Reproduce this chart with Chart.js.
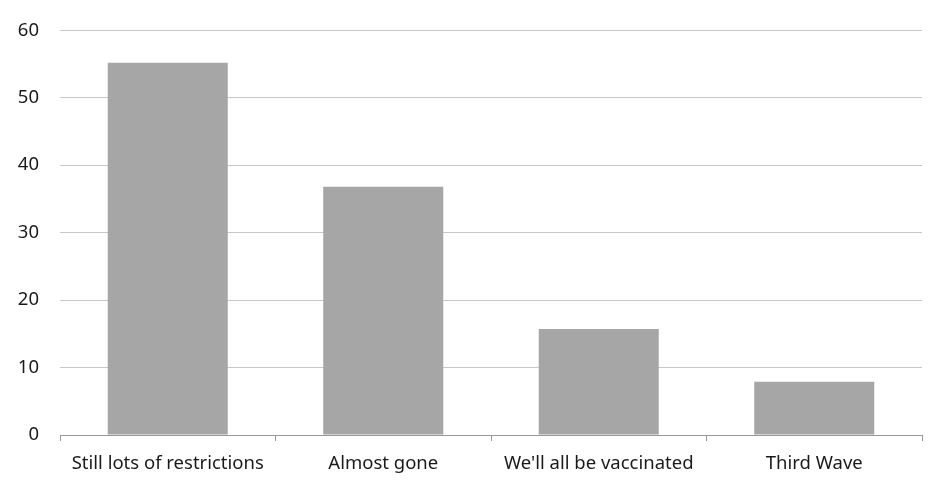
<!DOCTYPE html>
<html>
<head>
<meta charset="utf-8">
<script src="https://cdn.jsdelivr.net/npm/chart.js@4/dist/chart.umd.min.js"></script>
<style>
  html, body { margin: 0; padding: 0; background: #fff; }
  #wrap { width: 952px; height: 491px; }
</style>
</head>
<body>
<div id="wrap"><canvas id="chart"></canvas></div>
<script>
// Valores
const categorias = ['Still lots of restrictions', 'Almost gone', "We'll all be vaccinated", 'Third Wave'];
const valores = [55.2, 36.8, 15.7, 7.9];
const ticksY = [0, 10, 20, 30, 40, 50, 60];

const fonte = { family: '"Noto Sans", sans-serif', size: 18.5, lineHeight: 1 };

new Chart(document.getElementById('chart').getContext('2d'), {
    type: 'bar',
    data: {
        labels: categorias,
        datasets: [{
            data: valores,
            backgroundColor: '#a6a6a6',
            categoryPercentage: 1,
            barPercentage: 0.557
        }]
    },
    options: {
        responsive: true,
        maintainAspectRatio: false,
        animation: false,
        layout: { padding: { top: 29, right: 30, left: 0, bottom: 0 } },
        plugins: { legend: { display: false }, tooltip: { enabled: false } },
        scales: {
            x: {
                grid: { offset: true, drawOnChartArea: false, color: '#999', tickLength: 6 },
                border: { display: true, color: '#999' },
                ticks: { color: '#1a1a1a', font: fonte, padding: 13, maxRotation: 0 },
                afterFit: s => { s.height = 56; }
            },
            y: {
                min: 0,
                max: 60,
                afterBuildTicks: s => { s.ticks = ticksY.map(v => ({ value: v })); },
                grid: { color: '#c8c8c8', drawTicks: false },
                border: { display: false },
                ticks: { color: '#1a1a1a', font: fonte, padding: 21 },
                afterFit: s => { s.width = 60; }
            }
        }
    }
});
</script>
</body>
</html>
